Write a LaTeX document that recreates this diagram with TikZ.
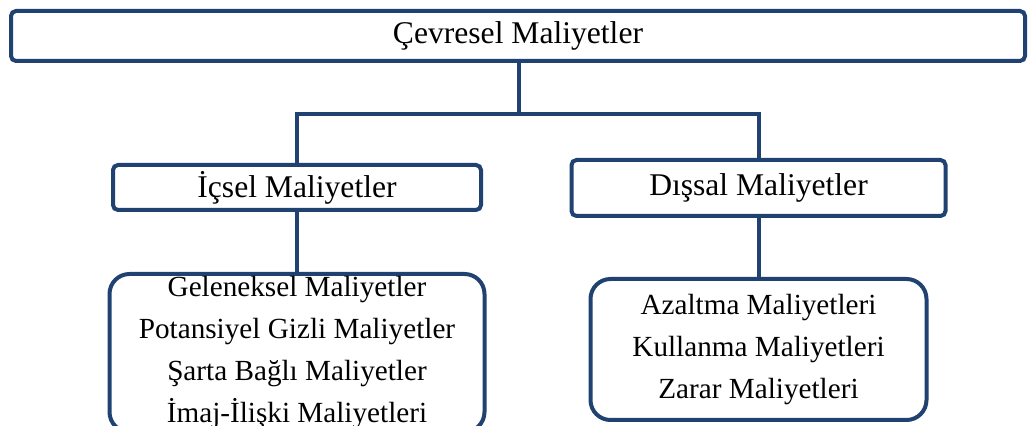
\documentclass[tikz,border=0pt]{standalone}
\usepackage{fontspec}
\setmainfont{Liberation Serif}
\definecolor{boxblue}{RGB}{31,66,112}
\tikzset{
  kutu/.style={draw=boxblue, line width=2pt, rounded corners=2.5pt, inner sep=0pt, align=center,
    font=\fontsize{15.8}{19}\selectfont},
  liste/.style={kutu, rounded corners=10pt, font=\fontsize{14.6}{21}\selectfont},
  link/.style={draw=boxblue, line width=2pt}
}
\begin{document}
\begin{tikzpicture}[x=0.5pt,y=-0.5pt]
  \useasboundingbox (0,0) rectangle (1028,426);
  \clip (0,0) rectangle (1028,426);
   \node[kutu, minimum width=507pt, minimum height=25pt] (cevre) at (518,36) {Çevresel Maliyetler};
     \node[kutu, minimum width=184pt, minimum height=22.5pt] (icsel) at (297,187.5) {İçsel Maliyetler};
     \node[kutu, minimum width=187pt, minimum height=28pt] (dissal) at (758.5,188) {Dışsal Maliyetler};
       \node[liste, minimum width=187.5pt, minimum height=79pt] (icliste) at (297,353)
         {Geleneksel Maliyetler\\Potansiyel Gizli Maliyetler\\Şarta Bağlı Maliyetler\\İmaj-İlişki Maliyetleri};
       \node[liste, minimum width=168pt, minimum height=70.5pt] (disliste) at (758.5,349.5)
         {Azaltma Maliyetleri\\Kullanma Maliyetleri\\Zarar Maliyetleri};
  \coordinate (bar) at (519,114);
    \draw[link] (cevre.south -| bar) -- (bar);
    \draw[link] (icsel.north) |- (bar) -| (dissal.north);
    \draw[link] (icsel.south) -- (icliste.north);
    \draw[link] (dissal.south) -- (disliste.north);
\end{tikzpicture}
\end{document}
